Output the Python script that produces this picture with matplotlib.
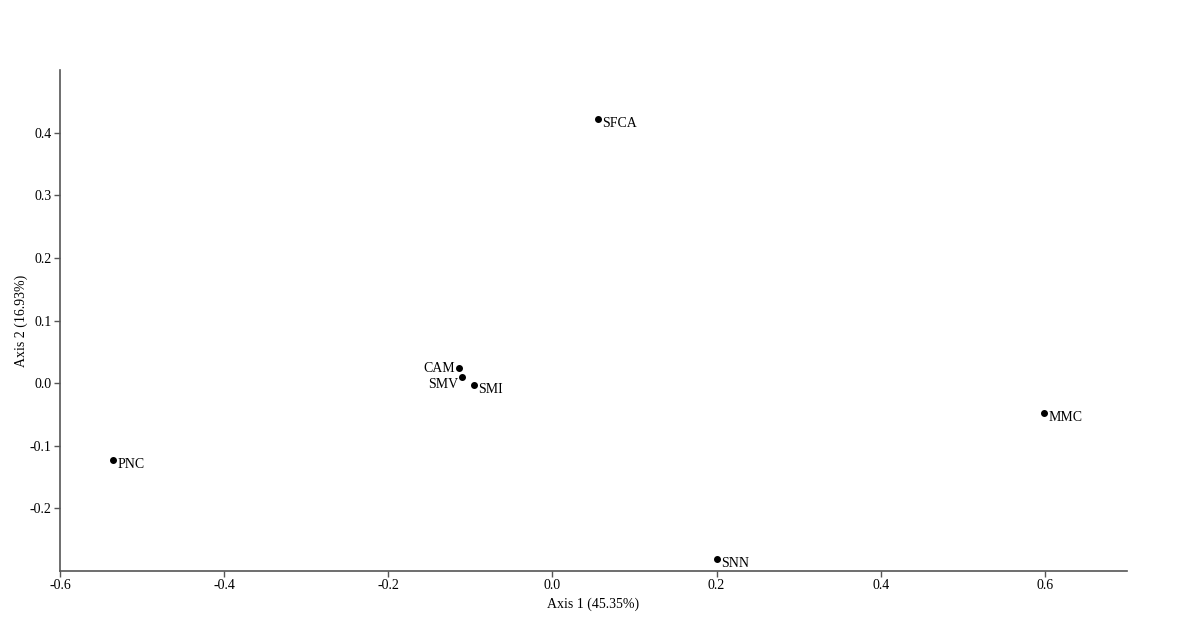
import matplotlib

matplotlib.use("Agg")

import matplotlib.pyplot as plt

# PCoA coordinates
sites = ["SFCA", "CAM", "SMV", "SMI", "MMC", "PNC", "SNN"]
axis1 = [0.056, -0.114, -0.110, -0.096, 0.599, -0.535, 0.200]
axis2 = [0.422, 0.024, 0.009, -0.003, -0.048, -0.123, -0.281]

x_ticks = [-0.6, -0.4, -0.2, 0.0, 0.2, 0.4, 0.6]
y_ticks = [-0.2, -0.1, 0.0, 0.1, 0.2, 0.3, 0.4]

# label offsets in points (dx, dy, ha)
label_pos = {
    "SFCA": (3, -3, "left"),
    "CAM": (-3, 0, "right"),
    "SMV": (-3, -5, "right"),
    "SMI": (3, -3, "left"),
    "MMC": (3, -3, "left"),
    "PNC": (3, -3, "left"),
    "SNN": (3, -3, "left"),
}

AXIS_COLOR = "#555555"

plt.rcParams["font.family"] = ["Liberation Serif", "DejaVu Serif"]

fig = plt.figure(figsize=(11.87, 6.41), dpi=100)
ax = fig.add_axes([60 / 1187, 70 / 641, (1127 - 60) / 1187, (571 - 70) / 641])

ax.scatter(axis1, axis2, s=16, color="black", zorder=3)
for name, x, y in zip(sites, axis1, axis2):
    dx, dy, ha = label_pos[name]
    ax.annotate(name, xy=(x, y), xytext=(dx, dy), textcoords="offset points",
                ha=ha, va="center", fontsize=10)

ax.set_xlim(-0.6, 0.7)
ax.set_ylim(-0.3, 0.5)
ax.set_xticks(x_ticks)
ax.set_yticks(y_ticks)
ax.set_xticklabels([f"{t:.1f}" for t in x_ticks])
ax.set_yticklabels([f"{t:.1f}" for t in y_ticks])
ax.set_xlabel("Axis 1 (45.35%)", fontsize=10, labelpad=4)
ax.set_ylabel("Axis 2 (16.93%)", fontsize=10, labelpad=1)

ax.spines["top"].set_visible(False)
ax.spines["right"].set_visible(False)
for side in ("left", "bottom"):
    ax.spines[side].set_color(AXIS_COLOR)
    ax.spines[side].set_linewidth(1.2)
ax.tick_params(axis="both", colors=AXIS_COLOR, labelcolor="black", length=4,
               width=1, labelsize=10, pad=2)

fig.savefig("out.png", dpi=100)
plt.close(fig)
